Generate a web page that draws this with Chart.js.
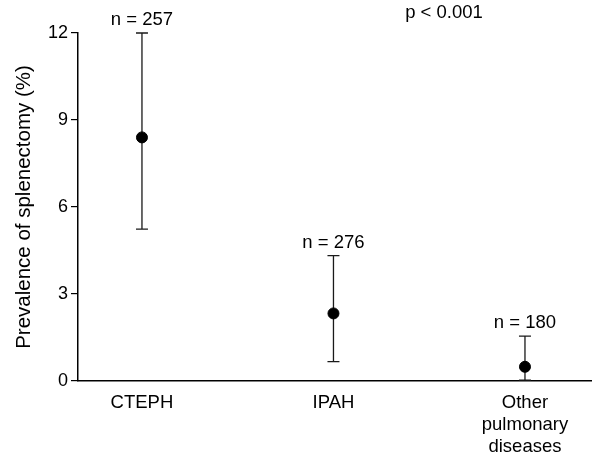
<!DOCTYPE html>
<html>
<head>
<meta charset="utf-8">
<script src="https://cdn.jsdelivr.net/npm/chart.js@4/dist/chart.umd.min.js"></script>
<style>
  html, body { margin: 0; padding: 0; background: #fff; }
  #wrap { width: 592px; height: 454px; }
</style>
</head>
<body>
<div id="wrap"><canvas id="chart" width="592" height="454"></canvas></div>
<script>
// groups and values
const categories = ['CTEPH', 'IPAH', ['Other', 'pulmonary', 'diseases']];
const prevalence = [8.4, 2.33, 0.49];
const lowerCI = [5.24, 0.67, 0.03];
const upperCI = [12.0, 4.32, 1.55];
const sampleLabels = ['n = 257', 'n = 276', 'n = 180'];
const yTicks = [0, 3, 6, 9, 12];
const pValueText = 'p < 0.001';

const FONT = '"Liberation Sans", Arial, Helvetica, sans-serif';

// error bars + text labels drawn through the chart scales
const errorBars = {
  id: 'errorBars',
  beforeDatasetsDraw(chart) {
    const {ctx, scales: {x, y}} = chart;
    ctx.save();
    ctx.strokeStyle = '#1a1a1a';
    ctx.lineWidth = 1.3;
    prevalence.forEach((v, i) => {
      const px = x.getPixelForValue(i + 1);
      const top = y.getPixelForValue(upperCI[i]);
      const bot = y.getPixelForValue(lowerCI[i]);
      ctx.beginPath();
      ctx.moveTo(px, top); ctx.lineTo(px, bot);
      ctx.moveTo(px - 6, top); ctx.lineTo(px + 6, top);
      ctx.moveTo(px - 6, bot); ctx.lineTo(px + 6, bot);
      ctx.stroke();
    });
    ctx.restore();
  },
  afterDatasetsDraw(chart) {
    const {ctx, scales: {x, y}} = chart;
    ctx.save();
    ctx.fillStyle = '#000';
    ctx.font = '18.5px ' + FONT;
    ctx.textAlign = 'center';
    ctx.textBaseline = 'middle';
    sampleLabels.forEach((t, i) => {
      ctx.fillText(t, x.getPixelForValue(i + 1), y.getPixelForValue(upperCI[i]) - 13);
    });
    ctx.fillText(pValueText, x.getPixelForValue(2.577), y.getPixelForValue(12.69));
    ctx.restore();
  }
};

new Chart(document.getElementById('chart'), {
  type: 'scatter',
  data: {
    datasets: [{
      data: prevalence.map((v, i) => ({x: i + 1, y: v})),
      backgroundColor: '#000',
      borderColor: '#000',
      pointRadius: 5.5,
      pointHoverRadius: 5.5
    }]
  },
  options: {
    responsive: false,
    animation: false,
    events: [],
    layout: {autoPadding: false, padding: {top: 33, right: 0, left: 0, bottom: 0}},
    plugins: {legend: {display: false}, tooltip: {enabled: false}},
    scales: {
      x: {
        type: 'linear',
        min: 0.666,
        max: 3.35,
        afterBuildTicks: (scale) => { scale.ticks = categories.map((c, i) => ({value: i + 1})); },
        afterFit: (scale) => { scale.height = 73; scale.paddingRight = 0; scale.paddingLeft = 0; },
        grid: {display: false, drawTicks: false},
        border: {display: true, color: '#000', width: 1.5},
        ticks: {
          color: '#000',
          padding: 11,
          maxRotation: 0,
          autoSkip: false,
          font: {family: FONT, size: 18.5, lineHeight: 1.19},
          callback: (v) => categories[v - 1]
        }
      },
      y: {
        min: 0,
        max: 12,
        afterBuildTicks: (scale) => { scale.ticks = yTicks.map(v => ({value: v})); },
        afterFit: (scale) => { scale.width = 78; },
        grid: {drawOnChartArea: false, drawTicks: true, tickLength: 7, color: '#000', lineWidth: 1.2},
        border: {display: true, color: '#000', width: 1.5},
        ticks: {color: '#000', padding: 3, font: {family: FONT, size: 18}},
        title: {
          display: true,
          text: 'Prevalence of splenectomy (%)',
          color: '#000',
          font: {family: FONT, size: 20.5},
          padding: {top: 12, bottom: 0}
        }
      }
    }
  },
  plugins: [errorBars]
});
</script>
</body>
</html>
